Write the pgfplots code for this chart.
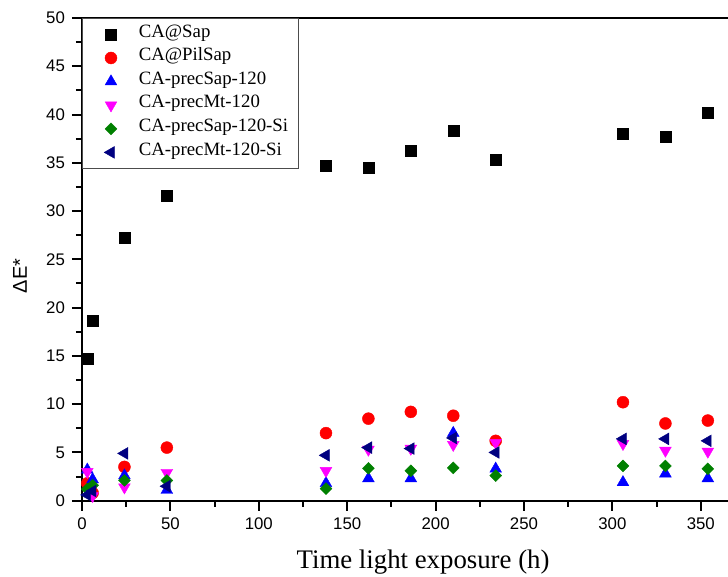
\documentclass[border=0pt]{standalone}
\usepackage{fontspec}
\setmainfont{Liberation Serif}
\setsansfont{Liberation Sans}
\usepackage{pgfplots}
\pgfplotsset{compat=1.18}
\definecolor{cgreen}{RGB}{0,128,0}
\definecolor{cnavy}{RGB}{0,0,128}
\definecolor{cmag}{RGB}{255,0,255}
\definecolor{cred}{RGB}{255,0,0}
\definecolor{cblue}{RGB}{0,0,255}
\begin{document}
\begin{tikzpicture}
\useasboundingbox (-41pt,-38.15pt) rectangle (323pt,250.35pt);
\begin{axis}[
  at={(0,0)}, anchor=south west,
  scale only axis, width=323pt, height=241.35pt,
  xmin=0, xmax=365.4, ymin=0, ymax=50,
  axis x line*=box, axis y line*=left,
  axis line style={-, line width=1pt},
  xtick={0,50,...,350}, minor x tick num=1,
  ytick={0,5,...,50}, minor y tick num=1,
  xtick pos=left, ytick pos=left,
  tick align=outside,
  major tick length=5pt, minor tick length=3pt,
  tick style={line width=1pt, black},
  ticklabel style={font=\sffamily\fontsize{8.4}{10}\selectfont},
  /pgf/number format/assume math mode=true,
  xlabel={Time light exposure (h)},
  xlabel style={font=\fontsize{13.4}{15}\selectfont, at={(axis description cs:0.528,-0.1264)}, anchor=center},
  ylabel={\sffamily ΔE*},
  ylabel style={font=\fontsize{10}{12}\selectfont, at={(axis description cs:-0.096,0.4655)}, anchor=center},
  legend style={at={(0,1)}, anchor=north west, draw=black!70, line width=0.6pt,
    font=\fontsize{9.4}{11}\selectfont, inner xsep=5pt, inner ysep=2pt,
    row sep=0pt, column sep=10.6pt,
    nodes={inner sep=0pt, text height=7.3pt, text depth=4.5pt}},
  legend image code/.code={\path (-8.9pt,0pt) (3pt,0pt); \draw[#1] plot coordinates {(0pt,0pt)};},
  legend cell align=left,
]
\addplot[only marks, mark=square*, mark size=2.75pt, mark options={fill=black, draw=black, line width=0.2pt}] coordinates {
(3,14.7)(6,18.6)(24,27.2)(48,31.6)(138,34.7)(162,34.5)(186,36.3)(210,38.3)(234,35.3)(306,38.0)(330,37.7)(354,40.2)};
\addlegendentry{CA@Sap}
\addplot[only marks, mark=*, mark size=3pt, mark options={fill=cred, draw=cred, line width=0.2pt}] coordinates {
(3,1.8)(6,0.8)(24,3.5)(48,5.5)(138,7.0)(162,8.5)(186,9.2)(210,8.8)(234,6.2)(306,10.2)(330,8.0)(354,8.3)};
\addlegendentry{CA@PilSap}
\addplot[only marks, mark=triangle*, mark size=3.4pt, mark options={fill=cblue, draw=cblue, line width=0.2pt}] coordinates {
(3,3.2)(6,2.2)(24,2.6)(48,1.1)(138,1.8)(162,2.3)(186,2.3)(210,7.0)(234,3.3)(306,1.9)(330,2.8)(354,2.3)};
\addlegendentry{CA-precSap-120}
\addplot[only marks, mark=triangle*, mark size=3.4pt, mark options={rotate=180, fill=cmag, draw=cmag, line width=0.2pt}] coordinates {
(3,3.0)(6,0.5)(24,1.4)(48,2.9)(138,3.1)(162,5.3)(186,5.4)(210,5.8)(234,6.0)(306,5.9)(330,5.2)(354,5.1)};
\addlegendentry{CA-precMt-120}
\addplot[only marks, mark=square*, mark size=2.1pt, mark options={rotate=45, fill=cgreen, draw=cgreen, line width=0.2pt}] coordinates {
(3,1.2)(6,1.6)(24,2.1)(48,2.1)(138,1.25)(162,3.35)(186,3.1)(210,3.4)(234,2.6)(306,3.6)(330,3.6)(354,3.3)};
\addlegendentry{CA-precSap-120-Si}
\addplot[only marks, mark=triangle*, mark size=3.4pt, mark options={rotate=90, fill=cnavy, draw=cnavy, line width=0.2pt}] coordinates {
(3,0.6)(6,1.0)(24,4.9)(48,1.5)(138,4.7)(162,5.5)(186,5.4)(210,6.5)(234,5.0)(306,6.4)(330,6.4)(354,6.2)};
\addlegendentry{CA-precMt-120-Si}
\end{axis}
\end{tikzpicture}
\end{document}
